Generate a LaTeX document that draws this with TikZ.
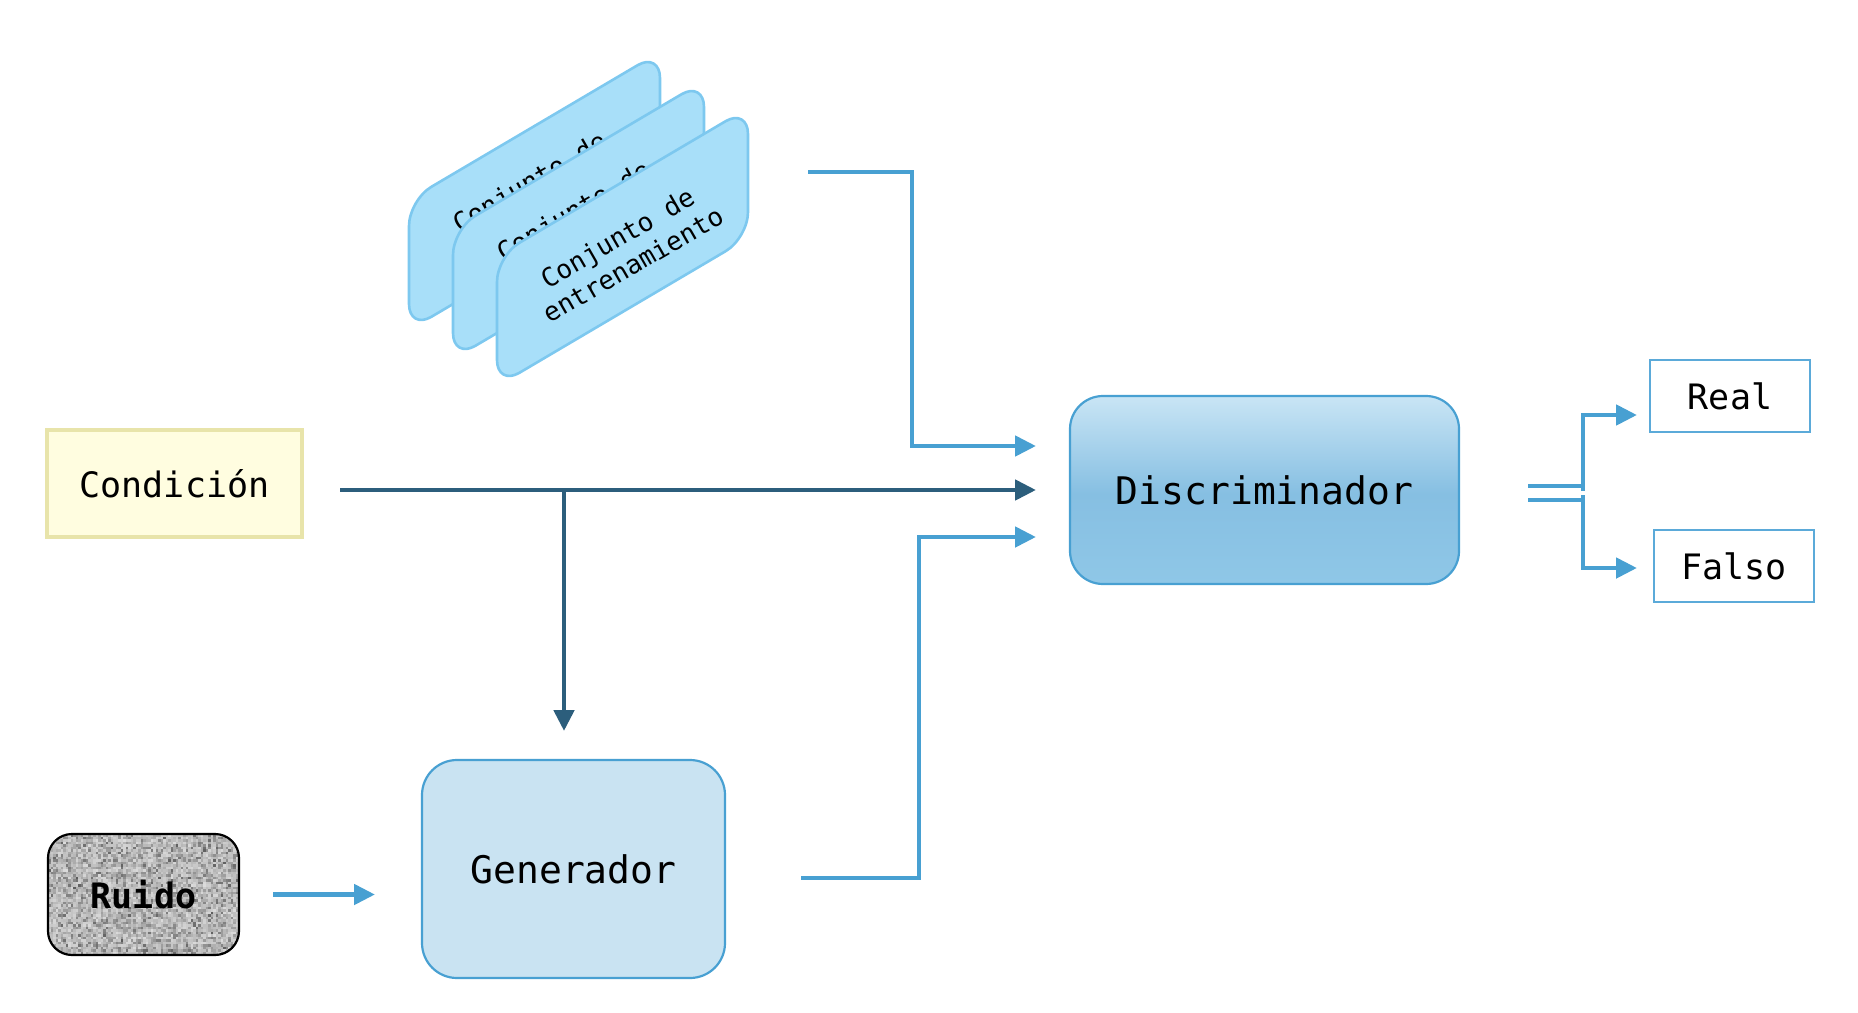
\documentclass[tikz,border=0pt]{standalone}
\usepackage{fontspec}
\newfontfamily\mono{DejaVu Sans Mono}
\usetikzlibrary{arrows.meta}
\definecolor{lblue}{RGB}{72,160,210}
\definecolor{dblue}{RGB}{44,94,124}
\definecolor{discTop}{HTML}{C9E5F5}
\definecolor{discMid}{HTML}{86BFE2}
\definecolor{discBot}{HTML}{8FC7E7}
\definecolor{genFill}{HTML}{C9E3F2}
\definecolor{cardFill}{HTML}{A8DFF9}
\definecolor{cardLine}{HTML}{7DC8EF}
\definecolor{condFill}{HTML}{FFFDE0}
\definecolor{condLine}{HTML}{E8E4AA}
\definecolor{outLine}{HTML}{5BAAD9}
\pgfdeclareverticalshading{discshade}{100bp}{color(0bp)=(discBot); color(25bp)=(discBot); color(49bp)=(discMid); color(75bp)=(discTop); color(100bp)=(discTop)}
\tikzset{
  blueline/.style={draw=lblue, line width=2.4pt},
  bluearrow/.style={blueline, -{Triangle[length=10.5pt,width=10pt]}},
  darkarrow/.style={draw=dblue, line width=2.4pt, -{Triangle[length=10.5pt,width=10pt]}},
  card/.style={fill=cardFill, draw=cardLine, line width=1.3pt, rounded corners=13pt},
  cardtext/.style={font=\mono\fontsize{13}{15.5}\selectfont, align=center, rotate=30, inner sep=0pt},
  box/.style={inner sep=0pt, outer sep=0pt, align=center},
  bigtext/.style={font=\mono\fontsize{19}{22}\selectfont},
  midtext/.style={font=\mono\fontsize{17.5}{20}\selectfont},
}
\begin{document}
\begin{tikzpicture}[x=0.5pt,y=-0.5pt]
\useasboundingbox (0,0) rectangle (1858,1012);

% training set cards
\foreach \dx/\dy in {-88/-56,-44/-27,0/0}{
  \begin{scope}[shift={(\dx,\dy)}]
    \draw[card] (497,386) -- (497,256) -- (748,108) -- (748,238) -- cycle;
    \node[cardtext] at (625,251) {Conjunto de\\entrenamiento};
  \end{scope}
}
\coordinate (tsout) at (808,172);

% Condicion
\node[box, midtext, fill=condFill, draw=condLine, line width=2pt,
  minimum width=127.5pt, minimum height=53.5pt] (cond) at (174.5,483.5) {Condición};

% Discriminador
\node[box, bigtext, draw=lblue, line width=1.1pt, rounded corners=16.5pt,
  shading=discshade,
  minimum width=194.5pt, minimum height=94pt] (disc) at (1264.5,490) {Discriminador};

% Generador
\node[box, bigtext, fill=genFill, draw=lblue, line width=1.1pt, rounded corners=17.5pt,
  minimum width=151.5pt, minimum height=109pt] (gen) at (573.5,869) {Generador};

% Ruido noise
\begin{scope}
  \clip[rounded corners=12pt] (48,834) rectangle (239,955);
  \fill[black!35] (48,834) rectangle (239,955);
  \pgfmathsetseed{7}
  \foreach \i in {0,...,76}{
    \foreach \j in {0,...,48}{
      \pgfmathsetmacro{\g}{int(14+46*rnd*rnd+10*rnd)}
      \fill[black!\g] (48+2.5*\i,834+2.5*\j) rectangle ++(2.6,2.6);
    }
  }
\end{scope}
\node[box, midtext, font=\mono\bfseries\fontsize{17.5}{20}\selectfont, draw=black, line width=1.1pt, rounded corners=12pt,
  minimum width=95.5pt, minimum height=60.5pt] (ruido) at (143.5,894.5) {Ruido};

% Real / Falso
\node[box, midtext, fill=white, draw=outLine, line width=1pt,
  minimum width=80pt, minimum height=36pt] (real) at (1730,396) {Real};
\node[box, midtext, fill=white, draw=outLine, line width=1pt,
  minimum width=80pt, minimum height=36pt] (falso) at (1734,566) {Falso};

% connectors
\coordinate (cj) at (564,490);
\draw[draw=dblue, line width=2.4pt, shorten <=19pt] (cond.east |- cj) -- (cj);
\draw[darkarrow, shorten >=17pt] (cj) -- (disc.west |- cj);
\draw[darkarrow, shorten >=14.5pt] (cj) -- (cj |- gen.north);

\draw[bluearrow, shorten >=17pt] (tsout) -- ++(104,0) |- ([yshift=22pt]disc.west);
\draw[bluearrow, shorten >=17pt] ([xshift=38pt,yshift=-4.5pt]gen.east) -- ++(118,0) |- ([yshift=-23.5pt]disc.west);
\draw[bluearrow, shorten <=17pt, shorten >=23.5pt] (ruido.east) -- (gen.west |- ruido.east);

\coordinate (fork) at (1583,493);
\draw[blueline] ([xshift=34.5pt,yshift=2pt]disc.east) -- ([yshift=3.5pt]fork);
\draw[blueline] ([xshift=34.5pt,yshift=-5pt]disc.east) -- ([yshift=-3.5pt]fork);
\draw[bluearrow, shorten >=6.5pt] ([yshift=1pt]fork) |- ([yshift=-9.5pt]real.west);
\draw[bluearrow, shorten >=8.5pt] ([yshift=-1pt]fork) |- ([yshift=-1pt]falso.west);
\end{tikzpicture}
\end{document}
